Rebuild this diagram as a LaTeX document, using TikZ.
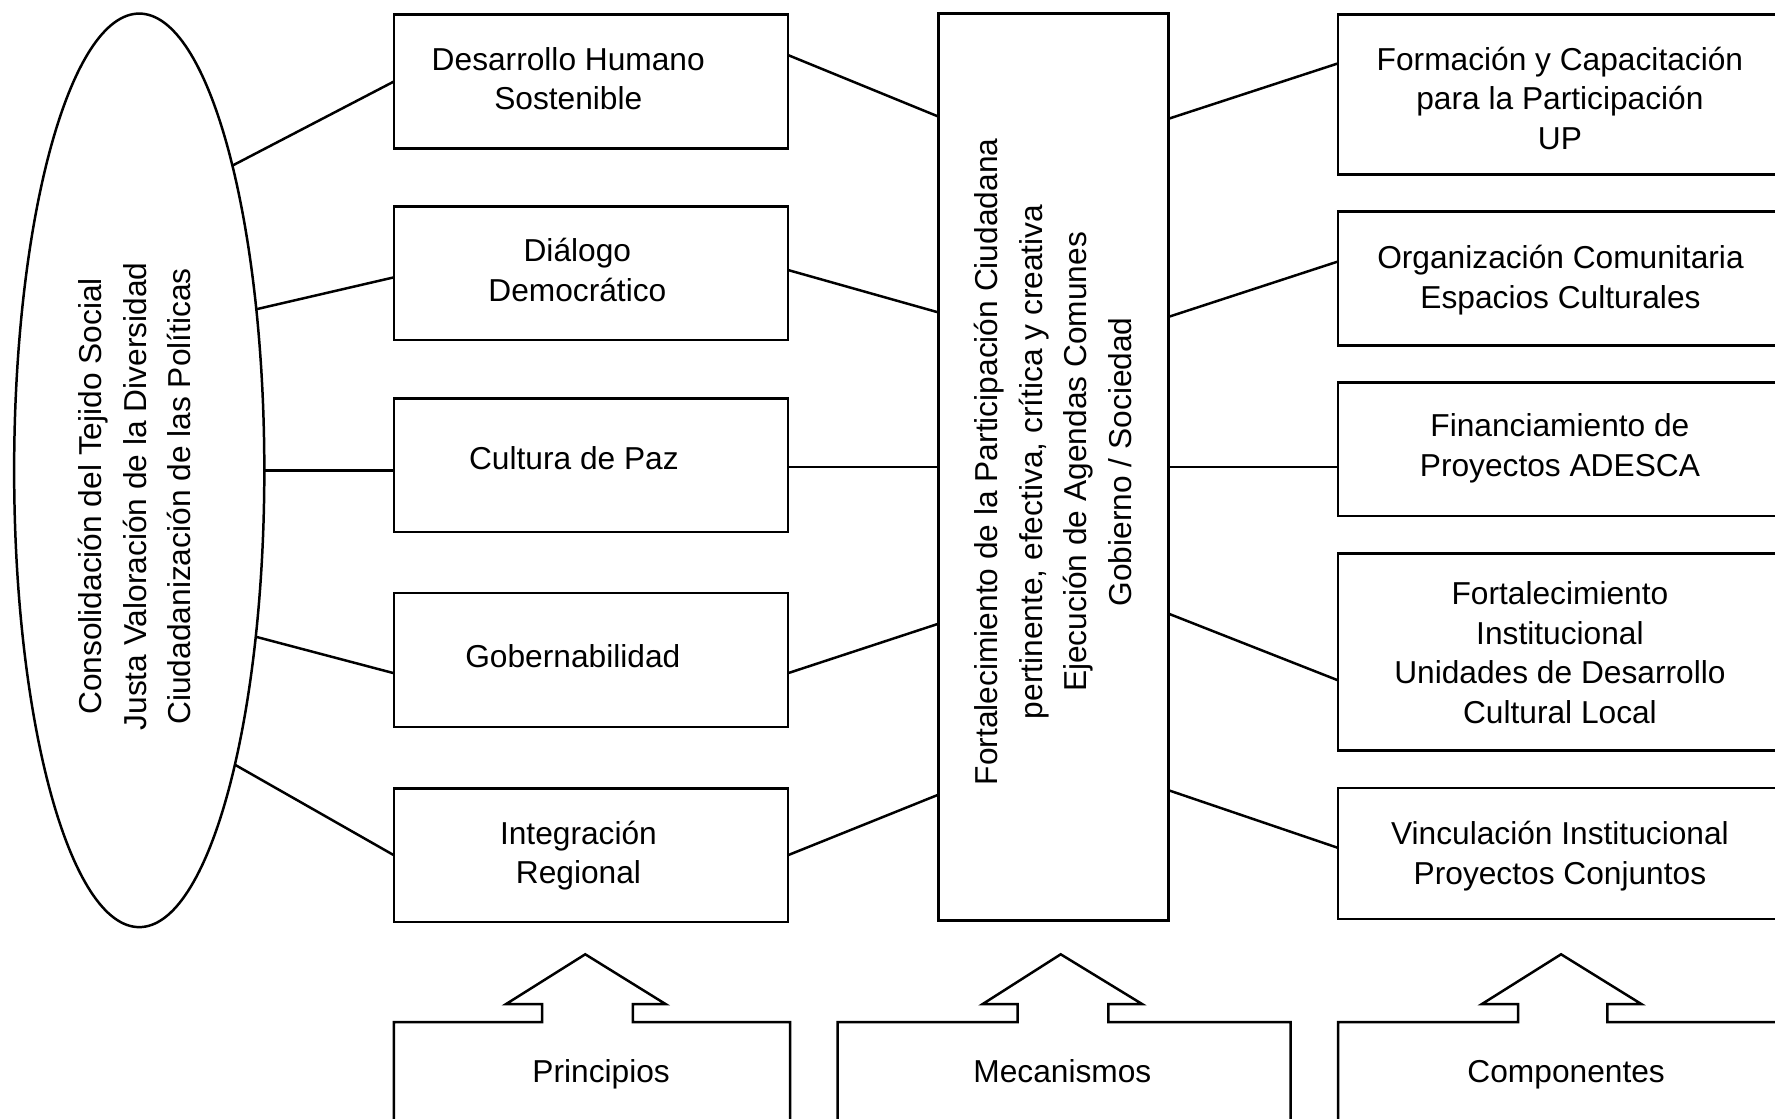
\documentclass[tikz,border=0pt]{standalone}
\usepackage{fontspec}
\setmainfont{Liberation Sans}
\usetikzlibrary{shapes.geometric,calc}
\begin{document}
\begin{tikzpicture}[x=0.5pt,y=-0.5pt,
  every node/.style={inner sep=0pt, outer sep=0pt},
  conn/.style={line width=1.1pt},
  lbox/.style={draw, line width=1.1pt, rectangle, minimum width=174pt, minimum height=59pt},
  rbox/.style={draw, line width=1.1pt, rectangle, minimum width=196pt},
  cbox/.style={draw, line width=1.1pt, rectangle},
  oval/.style={draw, ellipse, line width=1.1pt},
  txt/.style={align=center, font=\fontsize{14}{17.5}\selectfont},
  rtxt/.style={align=center, rotate=90, font=\fontsize{14}{19.7}\selectfont}
]
\useasboundingbox (0,0) rectangle (1568,988);
\clip (0,0) rectangle (1568,988);

% ellipse
\node[oval, minimum width=110.5pt, minimum height=403.5pt] (ell) at (123,415.5) {};
\node[rtxt] (ellt) at (119,438.5) {Consolidación del Tejido Social\\Justa Valoración de la Diversidad\\Ciudadanización de las Políticas};

% left column
\node[lbox] (b1) at (522,72) {};
\node[lbox] (b2) at (522,241.5) {};
\node[lbox] (b3) at (522,411) {};
\node[lbox] (b4) at (522,583) {};
\node[lbox] (b5) at (522,755.5) {};
\node[txt] (t1) at (502,69.5) {Desarrollo Humano\\Sostenible};
\node[txt] (t2) at (510,238.5) {Diálogo\\Democrático};
\node[txt] (t3) at (507,404.7) {Cultura de Paz};
\node[txt] (t4) at (506,579.7) {Gobernabilidad};
\node[txt] (t5) at (511,756) {Integración\\Regional};

% center
\node[cbox, minimum width=101.5pt, minimum height=400.5pt] (c) at (930.5,412.5) {};
\node[rtxt] (ct) at (930,408) {Fortalecimiento de la Participación Ciudadana\\pertinente, efectiva, crítica y creativa\\Ejecución de Agendas Comunes\\Gobierno / Sociedad};

% right column
\node[rbox, minimum height=70.5pt] (r1) at (1378,83.5) {};
\node[rbox, minimum height=59pt] (r2) at (1378,246) {};
\node[rbox, minimum height=59pt] (r3) at (1378,397) {};
\node[rbox, minimum height=87pt] (r4) at (1378,576) {};
\node[rbox, minimum height=58pt] (r5) at (1378,754) {};
\node[txt] (s1) at (1378,86.9) {Formación y Capacitación\\para la Participación\\UP};
\node[txt] (s2) at (1378.5,247.4) {Organización Comunitaria\\Espacios Culturales};
\node[txt] (s3) at (1378,396) {Financiamiento de\\Proyectos ADESCA};
\node[txt] (s4) at (1378,576.7) {Fortalecimiento\\Institucional\\Unidades de Desarrollo\\Cultural Local};
\node[txt] (s5) at (1378,756.5) {Vinculación Institucional\\Proyectos Conjuntos};

% connectors ellipse -> left boxes
\draw[conn] (ell.73.5) -- (b1.west);
\draw[conn] (ell.54.9) -- ($(b2.west)+(0,3.5)$);
\draw[conn] (ell.east) -- (ell.east -| b3.west);
\draw[conn] (ell.-55.4) -- ($(b4.west)+(0,11.7)$);
\draw[conn] (ell.-72.2) -- (b5.west);

% left boxes -> center
\draw[conn] ($(b1.east)+(0,-23.4)$) -- ($(c.west)+(0,-309.5)$);
\draw[conn] ($(b2.east)+(0,-3)$) -- ($(c.west)+(0,-136.5)$);
\draw[conn] (b3.east |- c.west) -- (c.west);
\draw[conn] ($(b4.east)+(0,11.7)$) -- ($(c.west)+(0,138.5)$);
\draw[conn] (b5.east) -- ($(c.west)+(0,289.5)$);

% center -> right boxes
\draw[conn] ($(c.east)+(0,-307.5)$) -- ($(r1.west)+(0,-27.5)$);
\draw[conn] ($(c.east)+(0,-132.5)$) -- ($(r2.west)+(0,-15)$);
\draw[conn] (c.east) -- (c.east -| r3.west);
\draw[conn] ($(c.east)+(0,129.5)$) -- ($(r4.west)+(0,25)$);
\draw[conn] ($(c.east)+(0,285.5)$) -- ($(r5.west)+(0,-5)$);

% bottom boxes with up arrows
\draw[conn] (348,1000) -- (348,903) -- (479,903) -- (479,887) -- (447,887) -- (517,843) -- (588,887) -- (559,887) -- (559,903) -- (698,903) -- (698,1000);
\node[txt, anchor=base] (pr) at (531,956.5) {Principios};
\draw[conn] (740,1000) -- (740,903) -- (899,903) -- (899,887) -- (868,887) -- (937,843) -- (1009,887) -- (979,887) -- (979,903) -- (1140,903) -- (1140,1000);
\node[txt, anchor=base] (me) at (938.5,956.5) {Mecanismos};
\draw[conn] (1182,1000) -- (1182,903) -- (1341,903) -- (1341,887) -- (1309,887) -- (1379,843) -- (1450,887) -- (1420,887) -- (1420,903) -- (1600,903);
\node[txt, anchor=base] (co) at (1383.5,956.5) {Componentes};
\end{tikzpicture}
\end{document}
